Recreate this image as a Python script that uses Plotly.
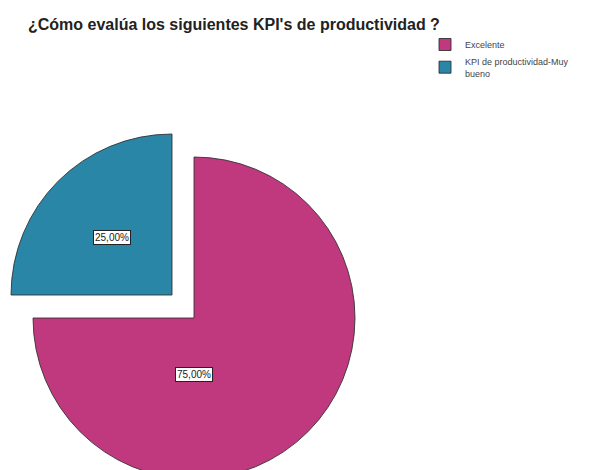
import plotly.graph_objects as go

# Survey results
categories = ["Excelente", "KPI de productividad-Muy<br>bueno"]
values = [75, 25]
colors = ["#C0397F", "#2A86A6"]
title_text = "¿Cómo evalúa los siguientes KPI's de productividad ?"

W, H = 612, 480
OUTLINE = "rgba(45,45,45,0.85)"
CLEAR = "rgba(0,0,0,0)"

# pie geometry (pixels): main pie and the exploded slice
R = 161
main_c = (194, 318)
explode_c = (172, 295)


def domain(c):
    cx, cy = c
    return dict(x=[(cx - R) / W, (cx + R) / W],
                y=[1 - (cy + R) / H, 1 - (cy - R) / H])


common = dict(labels=categories, values=values, sort=False,
              direction="clockwise", rotation=0, textinfo="none",
              hoverinfo="label+percent")

fig = go.Figure()
# full pie (drives the legend)
fig.add_trace(go.Pie(**common, domain=domain(main_c),
                     marker=dict(colors=colors, line=dict(color=OUTLINE, width=1))))
# blank out the original spot of the exploded slice
fig.add_trace(go.Pie(labels=["_"], values=[1], domain=domain(main_c), showlegend=False,
                     textinfo="none", hoverinfo="skip",
                     marker=dict(colors=["white"], line=dict(color="white", width=4))))
# main slice redrawn
fig.add_trace(go.Pie(**common, domain=domain(main_c), showlegend=False,
                     marker=dict(colors=[colors[0], CLEAR],
                                 line=dict(color=[OUTLINE, CLEAR], width=[1, 0]))))
# exploded slice
fig.add_trace(go.Pie(**common, domain=domain(explode_c), showlegend=False,
                     marker=dict(colors=[CLEAR, colors[1]],
                                 line=dict(color=[CLEAR, OUTLINE], width=[0, 1]))))

# percentage labels in boxes
total = sum(values)
label_offsets = [(0.0, 0.35), (-0.37, -0.355)]
label_centers = [main_c, explode_c]
for v, (ox, oy), (cx, cy) in zip(values, label_offsets, label_centers):
    txt = f"{v / total * 100:.2f}%".replace(".", ",")
    fig.add_annotation(x=(cx + ox * R) / W, y=1 - (cy + oy * R) / H,
                       xref="paper", yref="paper", text=txt, showarrow=False,
                       xanchor="center", yanchor="middle",
                       font=dict(family="Liberation Sans, Arial", size=10, color="#222"),
                       bgcolor="white", bordercolor="#222", borderwidth=1, borderpad=1)

fig.update_layout(
    width=W, height=H,
    margin=dict(l=0, r=0, t=0, b=0),
    paper_bgcolor="white", plot_bgcolor="white",
    title=dict(text=f"<b>{title_text}</b>", x=28 / W, xanchor="left",
               y=1 - 24 / H, yanchor="middle",
               font=dict(family="Liberation Sans, Arial", size=16, color="#222")),
    legend=dict(x=425 / W, y=1 - 30 / H, xanchor="left", yanchor="top",
                font=dict(family="Liberation Sans, Arial", size=9, color="#444"),
                bgcolor="rgba(0,0,0,0)", tracegroupgap=0, itemwidth=30),
)

fig.write_html("out.html")
